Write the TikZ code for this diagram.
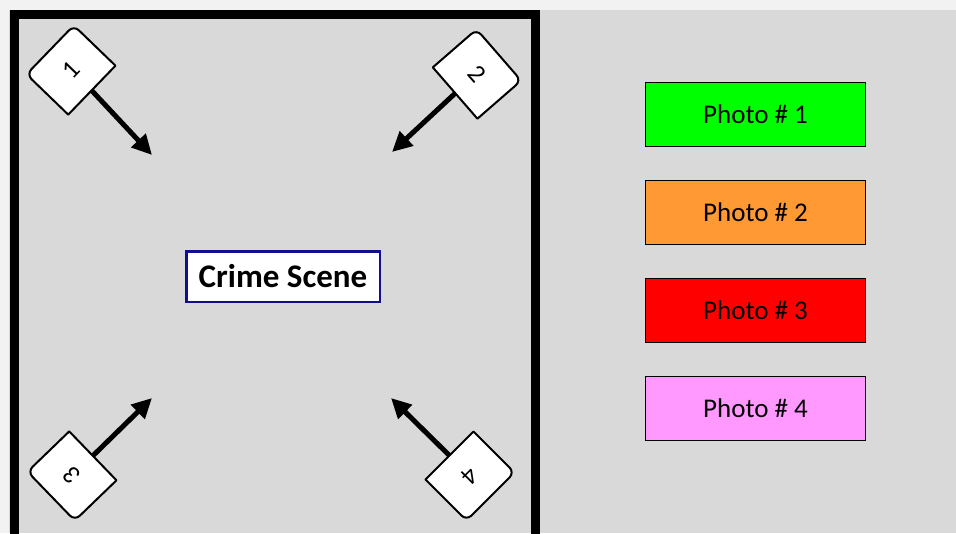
\documentclass[tikz,border=0pt]{standalone}
\usepackage{fontspec}
\setmainfont{Carlito}
\usetikzlibrary{arrows.meta}
\definecolor{bggray}{HTML}{D9D9D9}
\definecolor{wmark}{HTML}{F2F2F2}
\definecolor{navy}{RGB}{16,16,140}
\definecolor{pgreen}{HTML}{00FF00}
\definecolor{porange}{HTML}{FF9933}
\definecolor{pred}{HTML}{FF0000}
\definecolor{ppink}{HTML}{FF99FF}
\tikzset{
  photo/.style={draw=black, line width=1pt, minimum width=220pt, minimum height=64pt, inner sep=0pt, font=\fontsize{27}{32}\selectfont},
  camlabel/.style={font=\fontsize{26}{30}\selectfont, inner sep=0pt},
  cambox/.style={draw=black, fill=white, line width=2pt, line join=round},
  shot/.style={line width=5pt, -{Triangle[length=20pt,width=19pt]}},
  scenebox/.style={draw=navy, line width=2.5pt, fill=white, minimum width=193.5pt, minimum height=50.5pt, inner sep=0pt, font=\bfseries\fontsize{33}{38}\selectfont},
}
% name, cx, cy, angle, label, tipx, tipy
\newcommand{\drawcamera}[7]{%
  \coordinate (#1tip) at (#6,-#7);
  \begin{scope}[shift={(#2,-#3)}, rotate=#4]
    \coordinate (#1edge) at (22,0);
  \end{scope}
  \draw[shot] (#1edge) -- (#1tip);
  \begin{scope}[shift={(#2,-#3)}, rotate=#4]
    \draw[cambox] (29,-34) -- (29,34) -- (-22,34) arc[start angle=90,end angle=180,radius=7] -- (-29,-27) arc[start angle=180,end angle=270,radius=7] -- cycle;
  \end{scope}
  \node[camlabel, rotate=#4+90] (#1) at (#2,-#3) {#5};
}
\begin{document}
\begin{tikzpicture}[x=1pt,y=1pt]
\useasboundingbox (0,0) rectangle (956,-533);
\clip (0,0) rectangle (956,-533);
\fill[wmark] (0,0) rectangle (956,-533);
\fill[bggray] (9,-10) rectangle (956,-533);
\draw[line width=9pt] (14,-14.5) rectangle (535,-560);

\drawcamera{cam1}{71}{70}{-44}{1}{152}{155}
\drawcamera{cam2}{477}{74}{-139}{2}{392}{152}
\drawcamera{cam3}{72}{476}{44}{3}{152}{398}
\drawcamera{cam4}{470}{476}{135}{4}{391}{398}

\node[scenebox] (scene) at (283,-276.5) {Crime Scene};

\node[photo, fill=pgreen] (p1) at (755.5,-114.5) {Photo \# 1};
\node[photo, fill=porange] (p2) at (755.5,-212) {Photo \# 2};
\node[photo, fill=pred] (p3) at (755.5,-310.5) {Photo \# 3};
\node[photo, fill=ppink] (p4) at (755.5,-408) {Photo \# 4};
\end{tikzpicture}
\end{document}
